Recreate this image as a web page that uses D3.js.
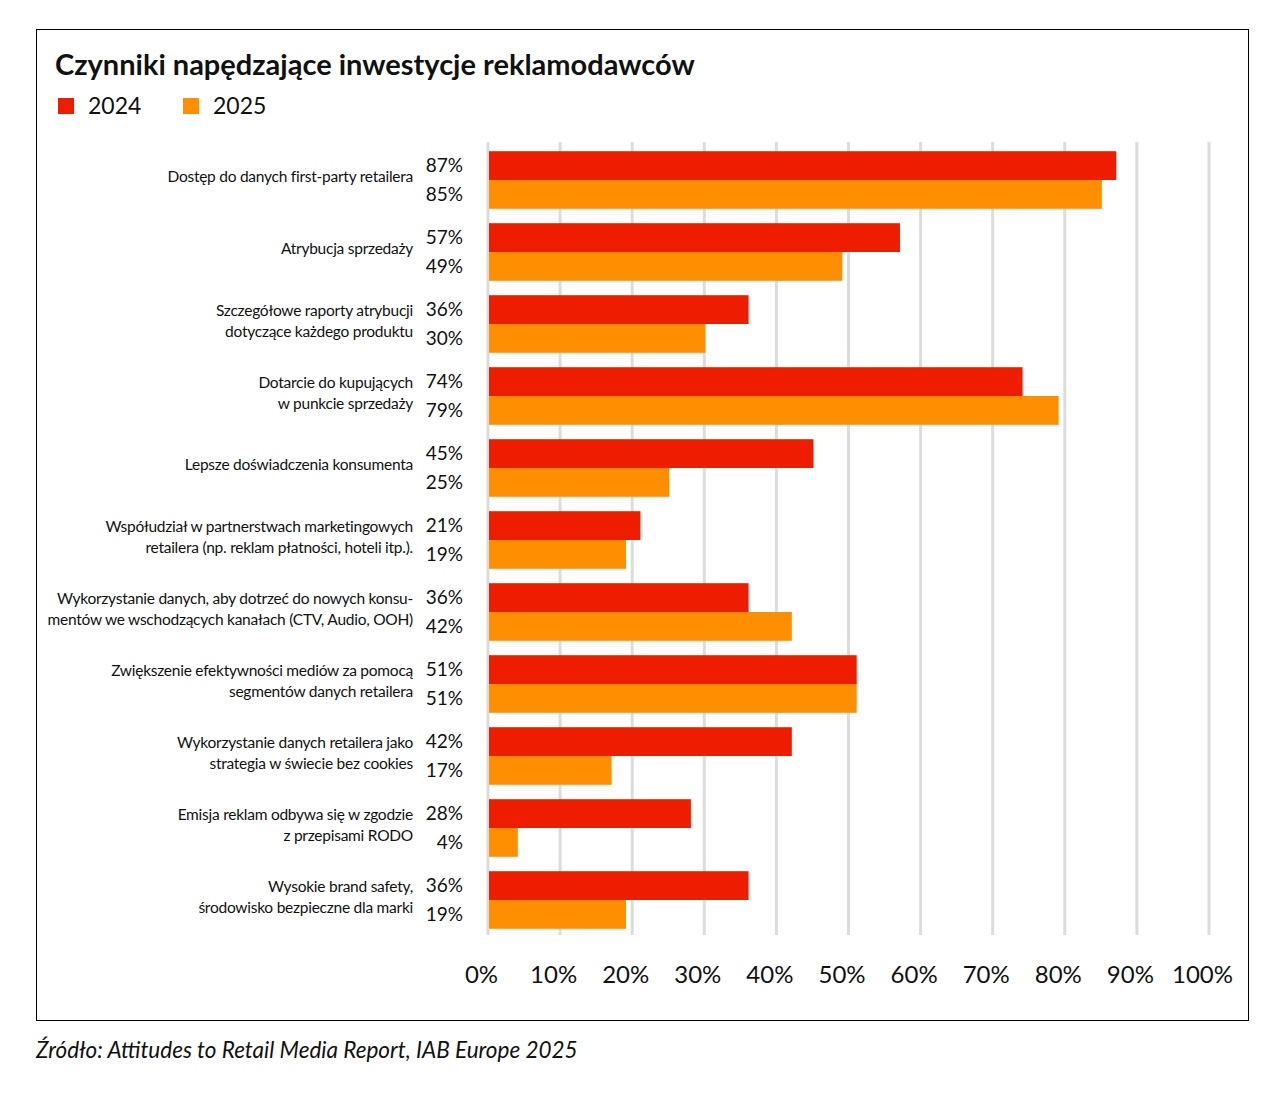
<!DOCTYPE html>
<html>
<head>
<meta charset="utf-8">
<script src="https://cdn.jsdelivr.net/npm/d3@7"></script>
<style>
  body { margin: 0; background: #fff; }
  svg text { font-family: Lato, "Noto Sans", sans-serif; fill: #111; }
</style>
</head>
<body>
<svg id="chart" width="1285" height="1096"></svg>
<script>
// data
var categories = [
  ['Dostęp do danych first-party retailera'],
  ['Atrybucja sprzedaży'],
  ['Szczegółowe raporty atrybucji', 'dotyczące każdego produktu'],
  ['Dotarcie do kupujących', 'w punkcie sprzedaży'],
  ['Lepsze doświadczenia konsumenta'],
  ['Współudział w partnerstwach marketingowych', 'retailera (np. reklam płatności, hoteli itp.).'],
  ['Wykorzystanie danych, aby dotrzeć do nowych konsu-', 'mentów we wschodzących kanałach (CTV, Audio, OOH)'],
  ['Zwiększenie efektywności mediów za pomocą', 'segmentów danych retailera'],
  ['Wykorzystanie danych retailera jako', 'strategia w świecie bez cookies'],
  ['Emisja reklam odbywa się w zgodzie', 'z przepisami RODO'],
  ['Wysokie brand safety,', 'środowisko bezpieczne dla marki']
];
var values2024 = [87, 57, 36, 74, 45, 21, 36, 51, 42, 28, 36];
var values2025 = [85, 49, 30, 79, 25, 19, 42, 51, 17, 4, 19];
var seriesNames = ['2024', '2025'];
var seriesColors = ['#ee1d00', '#ff8f00'];
var xTicks = [0, 10, 20, 30, 40, 50, 60, 70, 80, 90, 100];

var svg = d3.select('#chart');

// frame
svg.append('rect')
  .attr('x', 36.5).attr('y', 29.5)
  .attr('width', 1212).attr('height', 991)
  .attr('fill', 'none').attr('stroke', '#000').attr('stroke-width', 1);

// title
svg.append('text')
  .attr('x', 55).attr('y', 75)
  .attr('font-size', 29).attr('font-weight', 700)
  .text('Czynniki napędzające inwestycje reklamodawców');

// legend
var legendX = [58, 183];
seriesNames.forEach(function(name, i) {
  svg.append('rect')
    .attr('x', legendX[i]).attr('y', 98)
    .attr('width', 16).attr('height', 16)
    .attr('fill', seriesColors[i]);
  svg.append('text')
    .attr('x', legendX[i] + 30).attr('y', 114)
    .attr('font-size', 23)
    .text(name);
});

var x = d3.scaleLinear().domain([0, 100]).range([488, 1209]);
var y = d3.scaleBand()
  .domain(d3.range(categories.length))
  .range([144, 936])
  .paddingInner(0.2)
  .paddingOuter(0.1);
var sub = d3.scaleBand().domain([0, 1]).range([0, y.bandwidth()]);

// gridlines
svg.append('g').selectAll('line')
  .data(xTicks)
  .enter().append('line')
  .attr('x1', function(d) { return x(d); })
  .attr('x2', function(d) { return x(d); })
  .attr('y1', 142).attr('y2', 935)
  .attr('stroke', '#dcdcdc').attr('stroke-width', 3);

// x axis labels
var xAxis = d3.axisBottom(x)
  .tickValues(xTicks)
  .tickSize(0)
  .tickPadding(0)
  .tickFormat(function(d) { return d + '%'; });
var axisG = svg.append('g')
  .attr('transform', 'translate(-7,' + 966 + ')')
  .call(xAxis);
axisG.select('.domain').remove();
axisG.selectAll('text')
  .attr('font-size', 24)
  .attr('font-family', 'Lato, sans-serif')
  .attr('fill', '#111');

// bars
var series = [values2024, values2025];
series.forEach(function(vals, s) {
  svg.append('g').selectAll('rect')
    .data(vals)
    .enter().append('rect')
    .attr('x', x(0) + 1)
    .attr('y', function(d, i) { return y(i) + sub(s); })
    .attr('width', function(d) { return x(d) - x(0); })
    .attr('height', sub.bandwidth())
    .attr('fill', seriesColors[s]);

  svg.append('g').selectAll('text')
    .data(vals)
    .enter().append('text')
    .attr('x', 463)
    .attr('y', function(d, i) { return y(i) + sub(s) + sub.bandwidth() / 2; })
    .attr('dy', '0.35em')
    .attr('text-anchor', 'end')
    .attr('font-size', 19)
    .text(function(d) { return d + '%'; });
});

// category labels
var catG = svg.append('g').selectAll('text')
  .data(categories)
  .enter().append('text')
  .attr('text-anchor', 'end')
  .attr('font-size', 15.5)
  .attr('letter-spacing', -0.25)
  .attr('y', function(d, i) {
    var c = y(i) + y.bandwidth() / 2 - 3;
    return c - (d.length - 1) * 10;
  });
catG.selectAll('tspan')
  .data(function(d) { return d; })
  .enter().append('tspan')
  .attr('x', 413)
  .attr('dy', function(d, j) { return j === 0 ? '0.35em' : 21; })
  .text(function(d) { return d; });

// source
svg.append('text')
  .attr('x', 36).attr('y', 1058)
  .attr('font-size', 22.5).attr('font-style', 'italic')
  .text('Źródło: Attitudes to Retail Media Report, IAB Europe 2025');
</script>
</body>
</html>
